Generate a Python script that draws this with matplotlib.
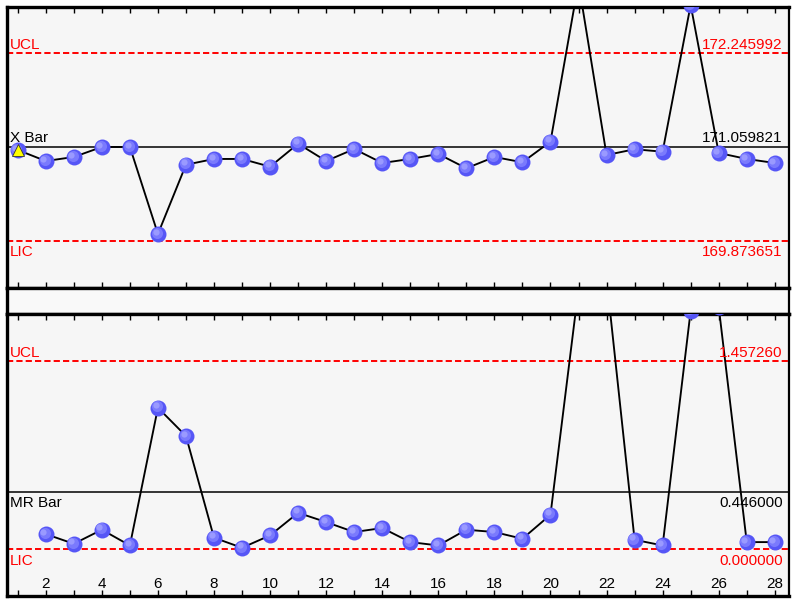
import matplotlib
matplotlib.use("Agg")
import matplotlib.pyplot as plt
from matplotlib.transforms import offset_copy

plt.rcParams['font.family'] = ['Liberation Sans', 'DejaVu Sans']

# individual values (X chart)
samples = list(range(1, 29))
x_values = [171.023, 170.883, 170.934, 171.061, 171.061, 169.959, 170.836,
            170.909, 170.909, 170.811, 171.102, 170.883, 171.035, 170.858,
            170.909, 170.972, 170.791, 170.934, 170.867, 171.128, 173.140,
            170.959, 171.032, 171.001, 172.860, 170.985, 170.909, 170.858]
x_ucl = 172.245992
x_center = 171.059821
x_lcl = 169.873651

# moving ranges (MR chart), starting at sample 2
mr_samples = list(range(2, 29))
mr_values = [0.119, 0.044, 0.153, 0.031, 1.098, 0.879, 0.091, 0.013, 0.109,
             0.284, 0.212, 0.135, 0.166, 0.057, 0.031, 0.153, 0.135, 0.083,
             0.269, 2.020, 2.100, 0.075, 0.031, 1.850, 1.880, 0.057, 0.057]
mr_ucl = 1.457260
mr_center = 0.446000
mr_lcl = 0.000000

xtick_labels = [str(i) if i % 2 == 0 else "" for i in samples]

fig = plt.figure(figsize=(7.95, 5.99), dpi=100)
fig.patch.set_facecolor("white")

ax1 = fig.add_axes([0.0082, 0.520, 0.984, 0.469])
strip = fig.add_axes([0.0082, 0.4753, 0.984, 0.0447])
ax2 = fig.add_axes([0.0082, 0.0042, 0.984, 0.471])

bg = "#f6f6f6"
for ax in (ax1, ax2, strip):
    ax.set_facecolor(bg)
    for side in ("left", "top", "bottom"):
        ax.spines[side].set_linewidth(2.4)
    ax.spines["right"].set_linewidth(1.6)
strip.set_xticks([])
strip.set_yticks([])
strip.set_facecolor("#f9f9f9")


def spheres(ax, xs, ys):
    ax.plot(xs, ys, color="black", lw=1.35, zorder=2)
    ax.plot(xs, ys, "o", ms=11.5, mfc="#5656f6", mew=0, zorder=3)
    t1 = offset_copy(ax.transData, fig=fig, x=-0.9, y=0.9, units="points")
    ax.plot(xs, ys, "o", ms=8, mfc="#7a7afd", mew=0, zorder=4, transform=t1)
    t2 = offset_copy(ax.transData, fig=fig, x=-1.7, y=1.7, units="points")
    ax.plot(xs, ys, "o", ms=4.5, mfc="#9a9aff", mew=0, zorder=5, transform=t2)


def label(ax, y, s, color, left, above):
    base = ax.get_yaxis_transform()
    dy = 1.2 if above else -3.0
    tr = offset_copy(base, fig=fig, x=0, y=dy, units="points")
    ax.text(0.004 if left else 0.992, y, s, color=color, fontsize=11,
            transform=tr, ha="left" if left else "right",
            va="bottom" if above else "top")


def limits(ax, ucl, center, lcl):
    dash = dict(color="red", lw=1.4, ls=(0, (3.2, 1.6)), zorder=1)
    ax.axhline(ucl, **dash)
    ax.axhline(lcl, **dash)
    ax.axhline(center, color="black", lw=1.1, zorder=1)
    label(ax, ucl, "UCL", "red", True, True)
    label(ax, lcl, "LIC", "red", True, False)
    label(ax, ucl, "%.6f" % ucl, "red", False, True)
    label(ax, lcl, "%.6f" % lcl, "red", False, False)


# X chart
spheres(ax1, samples, x_values)
ax1.plot(samples[0], x_values[0], "^", ms=9, mfc="#ffff00", mec="#333333",
         mew=0.6, zorder=6)
limits(ax1, x_ucl, x_center, x_lcl)
label(ax1, x_center, "X Bar", "black", True, True)
label(ax1, x_center, "%.6f" % x_center, "black", False, True)
spread = x_ucl - x_lcl
ax1.set_ylim(x_lcl - 0.25 * spread, x_ucl + 0.25 * spread)
ax1.set_xlim(0.6, 28.5)
ax1.set_yticks([])
ax1.set_xticks(samples)
ax1.tick_params(axis="x", direction="in", length=4, width=1, top=True,
                bottom=True, labelbottom=False)

# MR chart
spheres(ax2, mr_samples, mr_values)
limits(ax2, mr_ucl, mr_center, mr_lcl)
label(ax2, mr_center, "MR Bar", "black", True, False)
label(ax2, mr_center, "%.6f" % mr_center, "black", False, False)
spread = mr_ucl - mr_lcl
ax2.set_ylim(mr_lcl - 0.25 * spread, mr_ucl + 0.25 * spread)
ax2.set_xlim(0.6, 28.5)
ax2.set_yticks([])
ax2.set_xticks(samples)
ax2.set_xticklabels(xtick_labels, fontsize=11)
ax2.tick_params(axis="x", direction="in", length=4, width=1, top=True,
                bottom=True, pad=-14)

fig.savefig("out.png", dpi=100, facecolor="white")
